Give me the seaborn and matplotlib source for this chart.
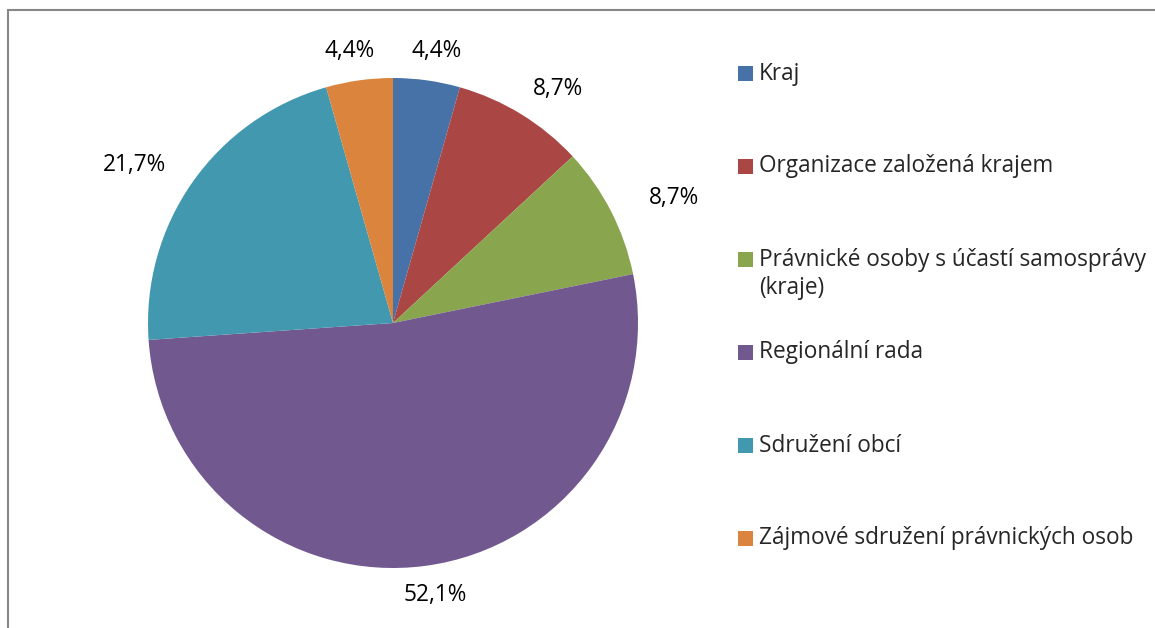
import matplotlib
matplotlib.use("Agg")
import matplotlib.pyplot as plt
import matplotlib.patches as mpatches
import seaborn as sns

# Data
categories = ["Kraj", "Organizace založená krajem",
              "Právnické osoby s účastí samosprávy\n(kraje)",
              "Regionální rada", "Sdružení obcí",
              "Zájmové sdružení právnických osob"]
shares = [4.4, 8.7, 8.7, 52.1, 21.7, 4.4]
colors = ["#4672A8", "#AA4644", "#89A54E", "#71588F", "#4198AF", "#DB843D"]

sns.set_theme(style="white")
plt.rcParams["font.family"] = ["Open Sans", "DejaVu Sans"]
palette = sns.color_palette(colors)
fs = 16.3

W, H = 1155, 628
fig = plt.figure(figsize=(W / 100, H / 100), dpi=100)

# pie axes: centre (393, 323), radius 245 px
cx, cy, r = 393, 323, 245
ax = fig.add_axes([(cx - r) / W, (H - cy - r) / H, 2 * r / W, 2 * r / H])
wedges, texts, autotexts = ax.pie(
    shares, colors=palette, startangle=90, counterclock=False,
    autopct=lambda p: f"{p:.1f}".replace(".", ",") + "%",
    pctdistance=1.12, wedgeprops=dict(linewidth=0),
    textprops=dict(fontsize=fs, color="black"))
# push labels sideways a bit more, like Excel's outside-end labels
for t in autotexts:
    x, y = t.get_position()
    t.set_position((x * 1.15, y))
    t.set_clip_on(False)
ax.set_xlim(-1, 1)
ax.set_ylim(-1, 1)
ax.axis("off")

# legend (Excel style: fixed row step, marker next to first line)
step = 93
for i, (lab, col) in enumerate(zip(categories, palette)):
    yc = 73.5 + i * step
    fig.patches.append(mpatches.Rectangle(
        (738 / W, (H - yc - 7.5) / H), 15 / W, 15 / H,
        transform=fig.transFigure, facecolor=col, edgecolor="none"))
    if "\n" in lab:
        fig.text(759 / W, (H - yc + 12) / H, lab, fontsize=fs, va="top",
                 ha="left", linespacing=1.25)
    else:
        fig.text(759 / W, (H - yc) / H, lab, fontsize=fs, va="center",
                 ha="left")

# chart frame (only left and top edges inside the picture)
fig.patches.append(mpatches.Rectangle(
    (8 / W, -0.1), 1.2, (H - 10) / H + 0.1, transform=fig.transFigure,
    facecolor="none", edgecolor="#878787", linewidth=1.5))

fig.savefig("out.png", dpi=100)
